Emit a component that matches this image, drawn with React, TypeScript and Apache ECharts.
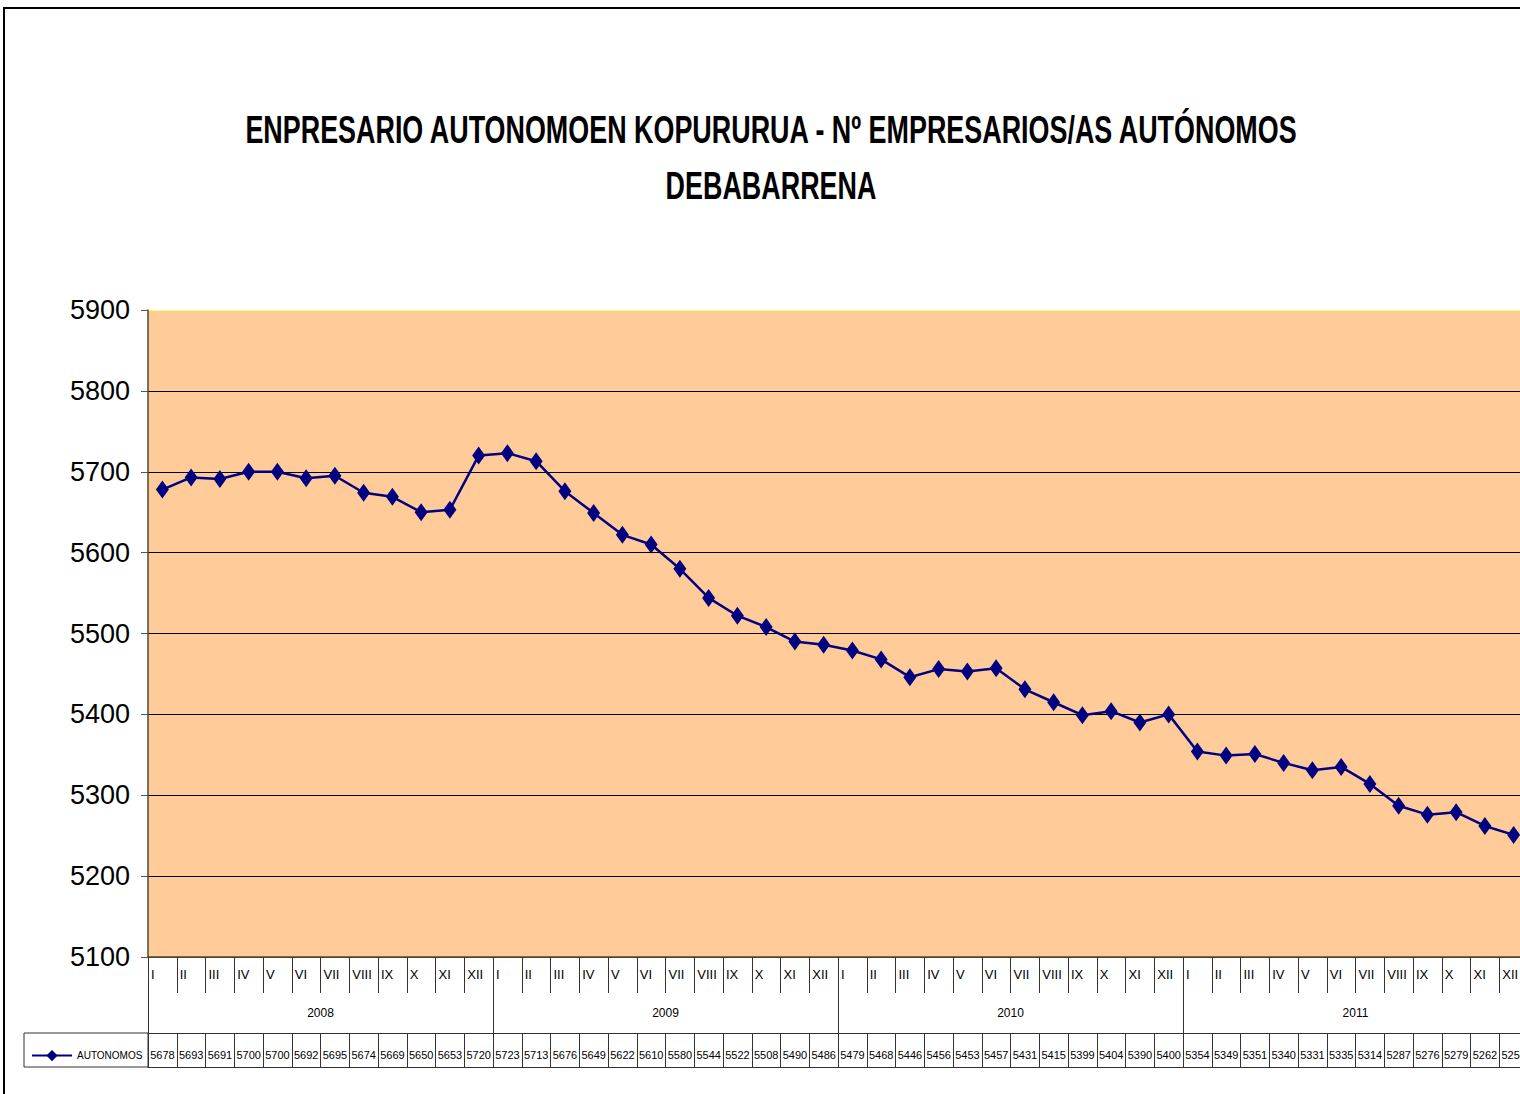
import React, { useEffect, useRef } from "react";
import * as echarts from "echarts";

const titleLines = [
  "ENPRESARIO AUTONOMOEN KOPURURUA - Nº EMPRESARIOS/AS AUTÓNOMOS",
  "DEBABARRENA",
];
const years = ["2008", "2009", "2010", "2011"];
const months = ["I", "II", "III", "IV", "V", "VI", "VII", "VIII", "IX", "X", "XI", "XII"];
const seriesName = "AUTONOMOS";
const values2008 = [5678, 5693, 5691, 5700, 5700, 5692, 5695, 5674, 5669, 5650, 5653, 5720];
const values2009 = [5723, 5713, 5676, 5649, 5622, 5610, 5580, 5544, 5522, 5508, 5490, 5486];
const values2010 = [5479, 5468, 5446, 5456, 5453, 5457, 5431, 5415, 5399, 5404, 5390, 5400];
const values2011 = [5354, 5349, 5351, 5340, 5331, 5335, 5314, 5287, 5276, 5279, 5262, 5251];
const yTicks = [5100, 5200, 5300, 5400, 5500, 5600, 5700, 5800, 5900];

const FONT = "'Liberation Sans Narrow', 'Arial Narrow', 'Liberation Sans', Arial, sans-serif";

export default function App() {
  const ref = useRef<HTMLDivElement>(null);
  useEffect(() => {
    if (!ref.current) return;
    const chart = echarts.init(ref.current, null, { renderer: "svg" });
    const values = [...values2008, ...values2009, ...values2010, ...values2011];
    const cats = years.flatMap((y) => months.map((m) => `${m} ${y}`));
    const monthBoundaryLabels = [...years.flatMap(() => months), ""];
    const valueLabels = values.map((v) => String(v));
    const cellW = 28.75;
    const gridLeft = 148;
    const gridTop = 310;
    const gridBottomY = 957;
    const lineCol = "#333";
    const titleY = [130, 186];
    const option: any = {
      animation: false,
      backgroundColor: "#fff",
      legend: {
        left: 26,
        top: 1045,
        itemWidth: 40,
        itemHeight: 14,
        itemGap: 4,
        textStyle: { fontFamily: FONT, fontSize: 10, color: "#000" },
        data: [seriesName],
      },
      graphic: [
        {
          type: "rect",
          shape: { x: 4, y: 8, width: 1700, height: 1300 },
          style: { fill: "none", stroke: "#000", lineWidth: 2 },
          silent: true,
        },
        {
          type: "rect",
          shape: { x: 24, y: 1033, width: gridLeft - 24, height: 34 },
          style: { fill: "none", stroke: lineCol, lineWidth: 1 },
          silent: true,
        },
        ...titleLines.map((t, i) => ({
          type: "text",
          x: 771,
          y: titleY[i],
          scaleX: 0.69,
          silent: true,
          style: {
            text: t,
            x: 0,
            y: 0,
            align: "center",
            verticalAlign: "middle",
            fontFamily: FONT,
            fontSize: 39,
            fontWeight: "bold",
            fill: "#000",
          },
        })),
      ],
      grid: {
        left: gridLeft,
        top: gridTop,
        width: cellW * 48,
        height: gridBottomY - gridTop,
        show: true,
        backgroundColor: "#FFCC99",
        borderWidth: 0,
        containLabel: false,
        outerBoundsMode: "none",
      },
      xAxis: [
        {
          type: "category",
          data: cats,
          boundaryGap: true,
          position: "bottom",
          axisLine: { show: true, lineStyle: { color: "#4a4a2a", width: 1.5 } },
          axisTick: { show: false },
          axisLabel: { show: false },
          splitLine: { show: false },
        },
        {
          type: "category",
          data: monthBoundaryLabels,
          boundaryGap: false,
          position: "bottom",
          axisLine: { show: false },
          axisTick: { show: true, interval: 0, length: 36, lineStyle: { color: lineCol } },
          axisLabel: {
            show: true,
            interval: 0,
            margin: 11,
            align: "left",
            padding: [0, 0, 0, 3],
            fontFamily: FONT,
            fontSize: 13,
            color: "#000",
          },
        },
        {
          type: "category",
          data: years,
          boundaryGap: true,
          position: "bottom",
          axisLine: { show: false },
          axisTick: { show: true, interval: 0, length: 76, lineStyle: { color: lineCol } },
          axisLabel: {
            show: true,
            interval: 0,
            margin: 50,
            fontFamily: FONT,
            fontSize: 12,
            color: "#000",
          },
        },
        {
          type: "category",
          data: valueLabels,
          boundaryGap: true,
          position: "bottom",
          offset: 76,
          axisLine: { show: true, lineStyle: { color: lineCol, width: 1 } },
          axisTick: { show: true, interval: 0, length: 34, lineStyle: { color: lineCol } },
          axisLabel: {
            show: true,
            interval: 0,
            margin: 16,
            fontFamily: FONT,
            fontSize: 11,
            color: "#000",
          },
        },
        {
          type: "category",
          data: valueLabels,
          boundaryGap: true,
          position: "bottom",
          offset: 110,
          axisLine: { show: true, lineStyle: { color: lineCol, width: 1 } },
          axisTick: { show: false },
          axisLabel: { show: false },
        },
      ],
      yAxis: {
        type: "value",
        min: yTicks[0],
        max: yTicks[yTicks.length - 1],
        interval: 100,
        axisLine: { show: true, lineStyle: { color: "#4a4a2a", width: 1.5 } },
        axisTick: { show: true, length: 7, lineStyle: { color: "#555" } },
        axisLabel: {
          margin: 18,
          fontFamily: FONT,
          fontSize: 27,
          color: "#000",
          formatter: (v: number) => String(v),
        },
        splitLine: {
          show: true,
          lineStyle: {
            color: ["#4a4a2a", "#000", "#000", "#000", "#000", "#000", "#000", "#000", "#FFFF66"],
            width: 1,
          },
        },
      },
      series: [
        {
          name: seriesName,
          type: "line",
          xAxisIndex: 0,
          data: values,
          symbol: "diamond",
          symbolSize: [13, 18],
          lineStyle: { color: "#000080", width: 2.5 },
          itemStyle: { color: "#000080" },
        },
      ],
    };
    chart.setOption(option);
    return () => chart.dispose();
  }, []);
  return (
    <div
      style={{ position: "absolute", left: 0, top: 0, width: 1520, height: 1094, overflow: "hidden", background: "#fff" }}
    >
      <div ref={ref} style={{ width: 1520, height: 1094 }} />
    </div>
  );
}
